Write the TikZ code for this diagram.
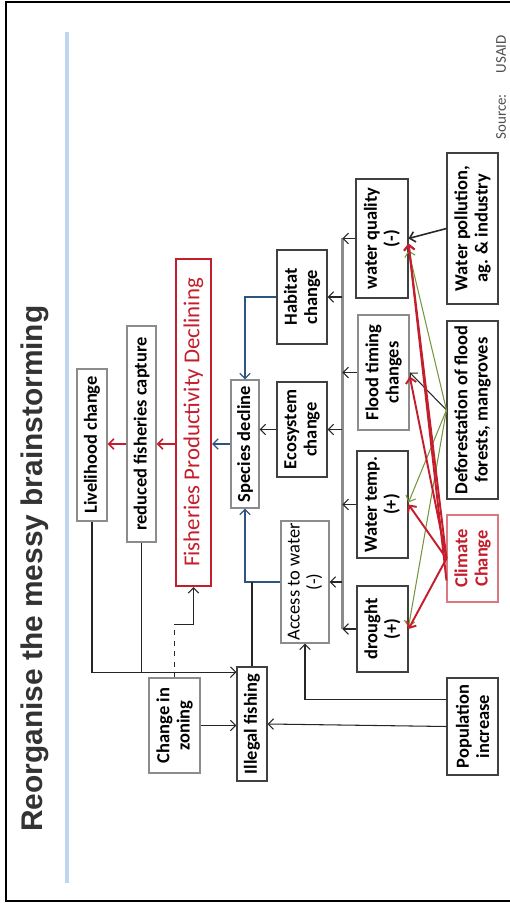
\documentclass[tikz,border=0pt]{standalone}
\usepackage{fontspec}
\setmainfont{Carlito}
\newfontfamily\titlefont{Liberation Sans}
\usetikzlibrary{calc,arrows.meta}

\definecolor{fpdred}{RGB}{196,30,45}
\definecolor{linkblue}{RGB}{46,84,128}
\definecolor{leafgreen}{RGB}{119,150,60}
\definecolor{rulecol}{RGB}{189,215,238}

\begin{document}
\begin{tikzpicture}[x=0.02cm, y=-0.02cm, >={Straight Barb[length=3pt,width=6pt]},
  box/.style={draw=black!75, line width=0.6pt, fill=white, align=center, inner sep=1pt,
    font=\fontsize{10.5}{11.5}\selectfont\bfseries},
  lbox/.style={box, draw=black!45},
  sz/.style 2 args={minimum width=#1*0.02cm, minimum height=#2*0.02cm},
  link/.style={->, black!85, line width=0.6pt},
  hot/.style={->, fpdred, line width=1.1pt},
  dry/.style={->, leafgreen, line width=0.6pt},
  feed/.style={->, linkblue, line width=0.7pt}]
\begin{scope}[rotate=90, transform shape]
  \useasboundingbox (0,0) rectangle (903,510);
  \draw[line width=1.2pt] (2,512) -- (2,6) -- (901,6) -- (901,512);
  \draw[rulecol, line width=2.8pt] (20,67) -- (871,67);
  \node[anchor=west, inner sep=0, text=black!80, font=\titlefont\fontsize{17}{20}\selectfont\bfseries] (ttl) at (71,35) {Reorganise the messy brainstorming};
  \node[anchor=east, inner sep=0, text=black!70, font=\fontsize{8.5}{10}\selectfont] (src) at (868,501) {Source:\hspace{1.4em}USAID};

  % boxes
  \node[lbox, sz={152}{30}] (lvh) at (458,92) {Livelihood change};
  \node[lbox, sz={216}{29}] (rfc) at (469,141.5) {reduced fisheries capture};
  \node[box, draw=fpdred, line width=1.2pt, text=fpdred, font=\fontsize{13}{14}\selectfont, sz={327}{35}] (fpd) at (480.5,193.5) {Fisheries Productivity Declining};
  \node[lbox, sz={128}{28}] (spd) at (459,245) {Species decline};
  \node[box, sz={94}{50}] (hab) at (606,302) {Habitat\\change};
  \node[box, sz={95}{50}] (eco) at (473.5,302) {Ecosystem\\change};
  \node[lbox, font=\fontsize{10.5}{11.5}\selectfont, sz={122}{48}] (acc) at (321,305) {Access to water\\(-)};
  \node[box, sz={119}{52}] (wq) at (664.5,382) {water quality\\(-)};
  \node[lbox, line width=0.9pt, sz={115}{51}] (flt) at (530.5,383.5) {Flood timing\\changes};
  \node[box, sz={107}{51}] (wtp) at (398.5,382.5) {Water temp.\\(+)};
  \node[box, sz={86}{51}] (drt) at (274,382.5) {drought\\(+)};
  \node[box, sz={151}{51}] (wpl) at (674.5,472.5) {Water pollution,\\ag. \& industry};
  \node[box, sz={178}{51}] (dfr) at (493,472.5) {Deforestation of flood\\forests, mangroves};
  \node[box, draw=fpdred!60, text=fpdred, sz={87}{51}] (clm) at (344.5,472.5) {Climate\\Change};
  \node[box, sz={97}{51}] (pop) at (176.5,472.5) {Population\\increase};
  \node[lbox, sz={95}{51}] (czn) at (177.5,174.5) {Change in\\zoning};
  \node[box, sz={114}{30}] (ilf) at (179,252) {Illegal fishing};

  % middle chain
  \draw[feed] (spd.north) -- (spd.north |- fpd.south);
  \draw[->, fpdred, line width=0.9pt] (spd.north |- fpd.north) -- (spd.north |- rfc.south);
  \draw[->, fpdred, line width=0.9pt] (spd.north |- rfc.north) -- (spd.north |- lvh.south);
  \draw[feed] (hab.north) |- (spd.east);
  \draw[feed] (acc.north) |- (spd.west);
  \draw[black!85, line width=0.6pt] (ilf.east) -- (ilf.east -| acc.north);
  \draw[link] (eco.north) -- (eco.north |- spd.south);

  % bus between the two columns
  \coordinate (bt) at ($(wq.north)+(0,-13)$);
  \coordinate (bb) at (bt -| drt.north);
  \draw[black!45, line width=1.3pt] (bt) -- (bb);
  \foreach \n in {wq,flt,wtp,drt} \draw[link] (\n.north) -- (\n.north |- bt);
  \foreach \n in {hab,eco,acc} \draw[link] (\n.south |- bt) -- (\n.south);

  % drivers
  \draw[link, line width=0.9pt] (wpl.north) -- (wq.south);
  \draw[link] (dfr.north) -- (flt.south);
  \draw[dry] (dfr.north) -- ($(wq.south)+(-12,0)$);
  \draw[dry] (dfr.north) -- ($(wtp.south)+(2,0)$);
  \draw[dry] (dfr.north) -- ($(drt.south)+(2,0)$);
  \draw[hot] (clm.north) -- ($(wq.south)+(-5,0)$);
  \draw[hot] ($(clm.north)+(-22,0)$) -- ($(wq.south)+(-5,0)$);
  \draw[hot] (clm.north) -- ($(flt.south)+(-4,0)$);
  \draw[hot] (clm.north) -- (wtp.south);
  \draw[hot] (clm.north) -- (drt.south);

  % left side
  \coordinate (ilfin) at ($(ilf.north east)!.1!(ilf.north)$);
  \draw[link] (lvh.west) -| (ilfin);
  \draw[black!85, line width=0.6pt] (rfc.west) -- (rfc.west -| ilfin);
  \draw[dashed, black!85, line width=0.6pt] (czn.east) -- ++(53,0) coordinate (czk);
  \draw[link] (czk) |- (fpd.west);
  \draw[link] (czn.south) -- (czn.south |- ilf.north);
  \draw[link] (pop.north) -- (ilf.south);
  \coordinate (popout) at ($(pop.north)!.55!(pop.north east)$);
  \draw[link] (popout) |- (acc.west);
\end{scope}
\end{tikzpicture}
\end{document}
